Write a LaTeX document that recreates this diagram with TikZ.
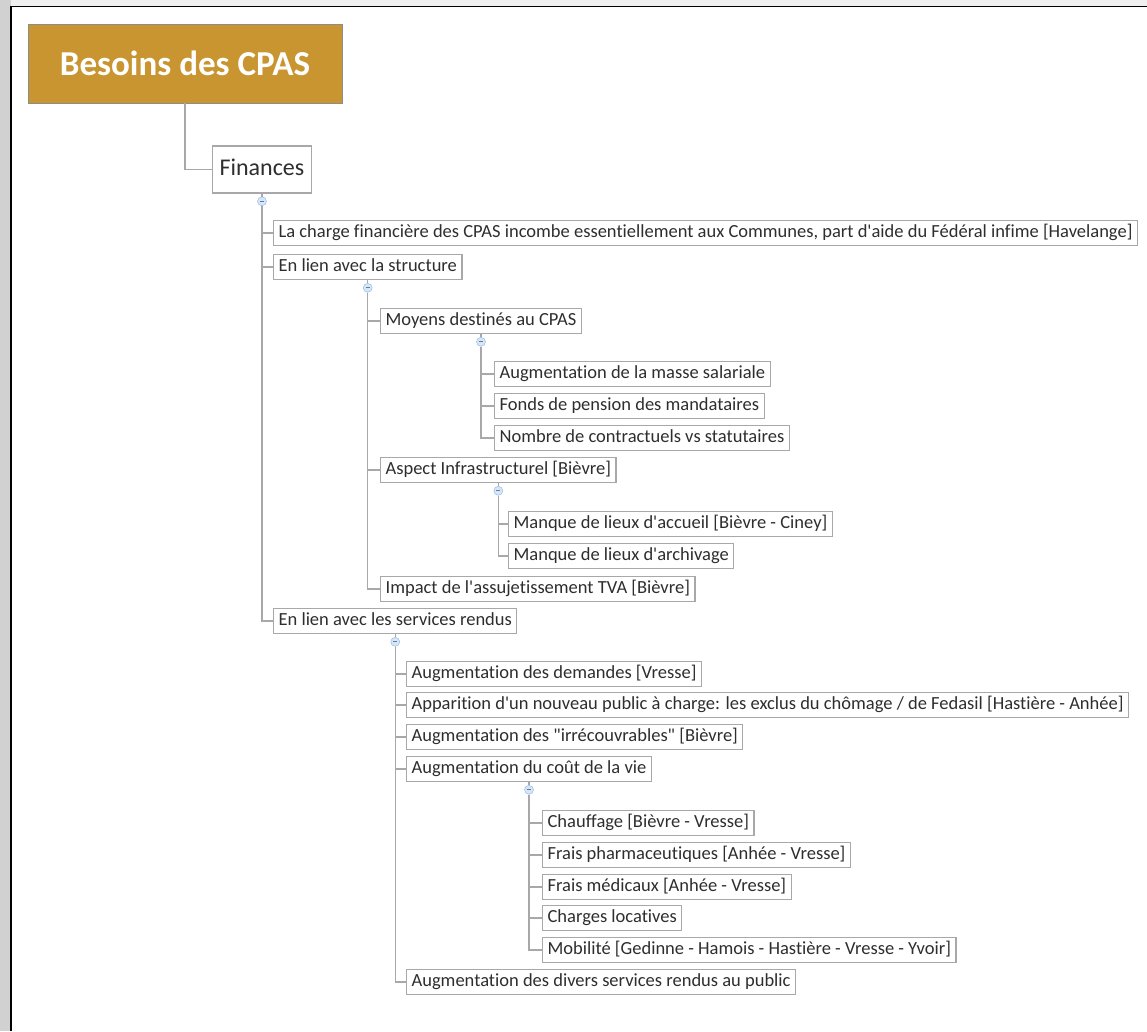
\documentclass[tikz,border=0pt]{standalone}
\usepackage{fontspec}
\setmainfont{Carlito}[Ligatures={TeXOff,CommonOff}]
\usetikzlibrary{positioning}
\definecolor{boxline}{RGB}{168,168,168}
\definecolor{gold}{RGB}{201,149,48}
\definecolor{foldfill}{RGB}{214,230,248}
\definecolor{foldline}{RGB}{140,178,222}
\tikzset{
topic/.style={draw=boxline, line width=1.2pt, fill=white, anchor=west,
  inner xsep=5pt, inner ysep=4pt, text height=12.5pt, text depth=4.5pt,
  minimum height=25pt, text=black!82, font=\fontsize{18.5}{22}\selectfont},
link/.style={draw=boxline, line width=1.2pt},
fold/.style={circle, draw=foldline, fill=foldfill, inner sep=0pt,
  minimum size=9pt, path picture={\draw[foldline!70!black, line width=.7pt]
  ([xshift=-2pt]path picture bounding box.center)--([xshift=2pt]path picture bounding box.center);}},
}
\begin{document}
\begin{tikzpicture}[x=1pt,y=-1pt]
\useasboundingbox (0,0) rectangle (1147,1031);
\fill[black!18] (0,0) rectangle (11,1031);
\fill[black!6] (11,0) rectangle (1147,6);
\draw[line width=1.5pt] (11,1031)--(11,6.5)--(1147,6.5);
% root and first level
\node[fill=gold, draw=black!45, line width=.8pt, minimum width=314pt, minimum height=79pt,
  text=white, font=\fontsize{35}{40}\bfseries\selectfont] (root) at (185,63.5) {Besoins des CPAS};
\node[topic, minimum height=47pt, inner xsep=7pt, text height=17pt, text depth=5pt,
  font=\fontsize{24}{28}\selectfont] (fin) at (212,169.5) {Finances};
\node[fold, below=3pt of fin] (ffin) {};
\node[topic] (charge) at (273,233) {La charge financière des CPAS incombe essentiellement aux Communes, part d'aide du Fédéral infime [Havelange]};
\node[topic] (struct) at (273,267) {En lien avec la structure};
\node[topic] (serv) at (273,621) {En lien avec les services rendus};
% structure
\node[fold, below=3pt of struct] (fstruct) {};
\node[topic] (moyens) at (380,321) {Moyens destinés au CPAS};
\node[topic] (aspect) at (380,470) {Aspect Infrastructurel [Bièvre]};
\node[topic] (tva) at (380,589) {Impact de l'assujetissement TVA [Bièvre]};
\node[fold, below=3pt of moyens] (fmoyens) {};
\node[topic] (masse) at (494,374) {Augmentation de la masse salariale};
\node[topic] (pension) at (494,406) {Fonds de pension des mandataires};
\node[topic] (contrat) at (494,438) {Nombre de contractuels vs statutaires};
\node[fold, below=3pt of aspect] (faspect) {};
\node[topic] (accueil) at (508,524) {Manque de lieux d'accueil [Bièvre - Ciney]};
\node[topic] (archive) at (508,556) {Manque de lieux d'archivage};
% services rendus
\node[fold, below=3pt of serv] (fserv) {};
\node[topic] (demandes) at (406,674) {Augmentation des demandes [Vresse]};
\node[topic] (public) at (406,705) {Apparition d'un nouveau public à charge: les exclus du chômage / de Fedasil [Hastière - Anhée]};
\node[topic] (irrec) at (406,737) {Augmentation des "irrécouvrables" [Bièvre]};
\node[topic] (cout) at (406,769) {Augmentation du coût de la vie};
\node[topic] (divers) at (406,982) {Augmentation des divers services rendus au public};
\node[fold, below=3pt of cout] (fcout) {};
\node[topic] (chauf) at (542,823) {Chauffage [Bièvre - Vresse]};
\node[topic] (pharma) at (542,855) {Frais pharmaceutiques [Anhée - Vresse]};
\node[topic] (medic) at (542,887) {Frais médicaux [Anhée - Vresse]};
\node[topic] (locat) at (542,918) {Charges locatives};
\node[topic] (mobil) at (542,950) {Mobilité [Gedinne - Hamois - Hastière - Vresse - Yvoir]};
% connectors
\draw[link] (root.south) |- (fin.west);
\draw[link] (fin.south)--(ffin) (struct.south)--(fstruct) (moyens.south)--(fmoyens)
  (aspect.south)--(faspect) (serv.south)--(fserv) (cout.south)--(fcout);
\foreach \n in {charge,struct,serv} \draw[link] (ffin.south) |- (\n.west);
\foreach \n in {moyens,aspect,tva} \draw[link] (fstruct.south) |- (\n.west);
\foreach \n in {masse,pension,contrat} \draw[link] (fmoyens.south) |- (\n.west);
\foreach \n in {accueil,archive} \draw[link] (faspect.south) |- (\n.west);
\foreach \n in {demandes,public,irrec,cout,divers} \draw[link] (fserv.south) |- (\n.west);
\foreach \n in {chauf,pharma,medic,locat,mobil} \draw[link] (fcout.south) |- (\n.west);
\end{tikzpicture}
\end{document}
